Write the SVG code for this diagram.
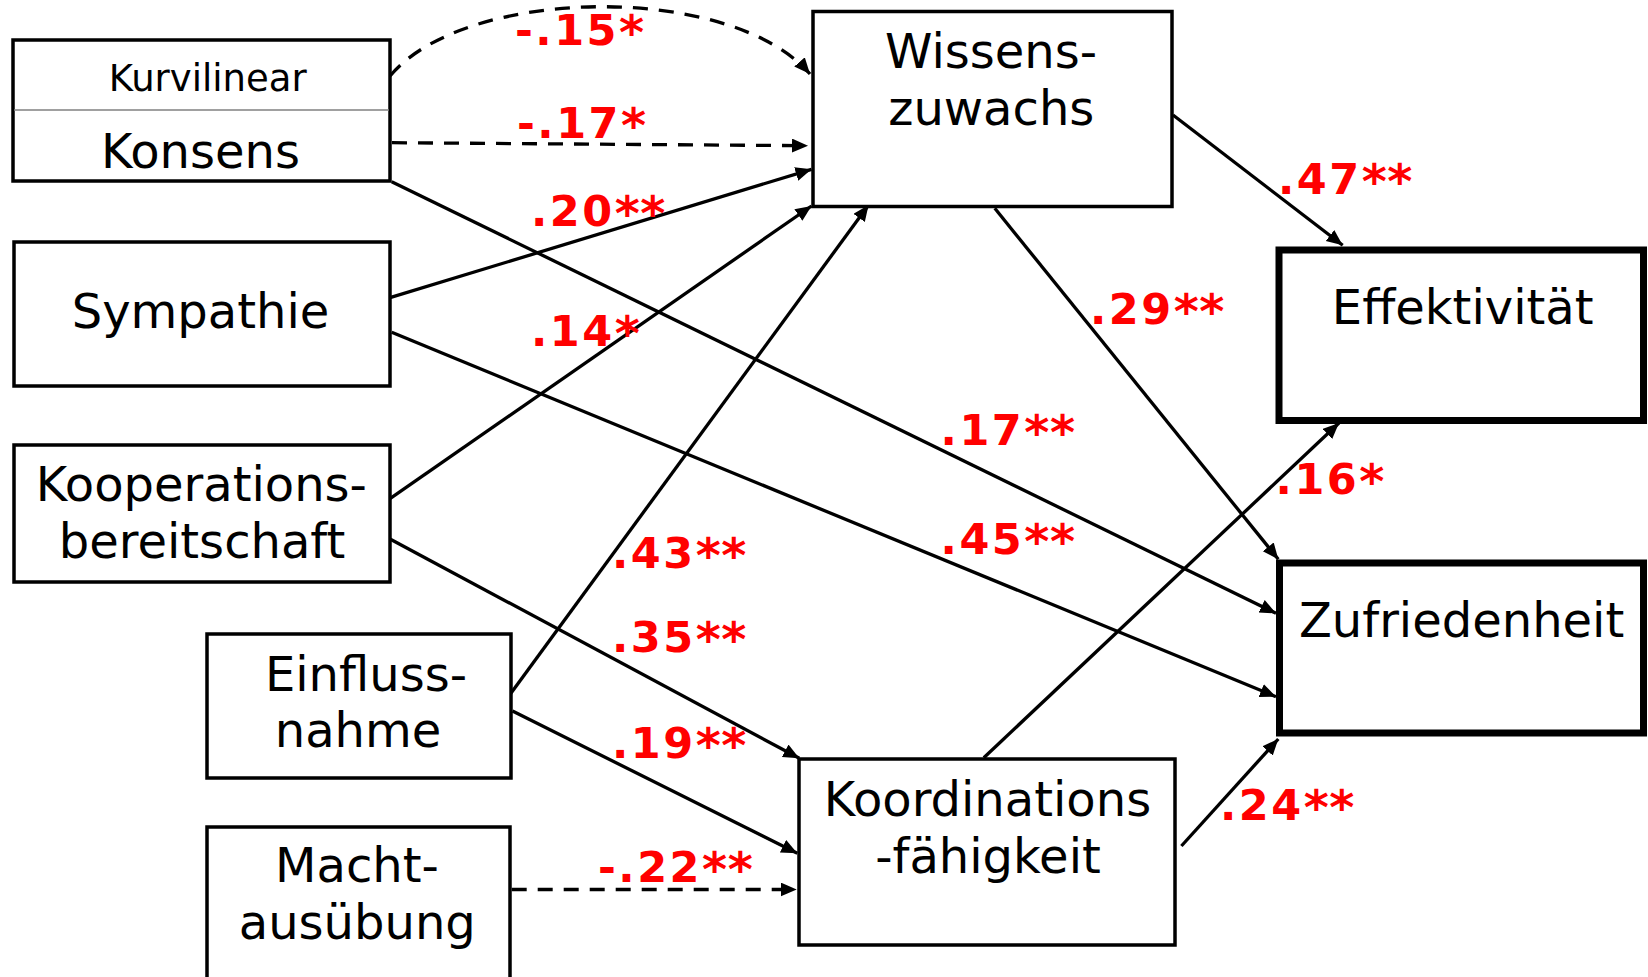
<svg xmlns="http://www.w3.org/2000/svg" width="1648" height="977" viewBox="0 0 1648 977">
<style>
.box{fill:#fff;stroke:#000;stroke-width:3.5}
.thick{fill:#fff;stroke:#000;stroke-width:7}
.t{font-family:"DejaVu Sans","Verdana",sans-serif;font-size:48px;fill:#000;text-anchor:middle}
.small{font-size:37px}
.lbl{font-family:"DejaVu Sans","Verdana",sans-serif;font-weight:bold;font-size:43px;fill:#ff0000;letter-spacing:2.5px}
.st{font-size:48px;letter-spacing:0.5px}
.c{fill:none;stroke:#000;stroke-width:3.3;marker-end:url(#ah)}
.d{stroke-dasharray:15 11}
</style>
<defs>
<marker id="ah" markerUnits="userSpaceOnUse" markerWidth="18" markerHeight="15" refX="16" refY="7" orient="auto">
<path d="M0,0 L16,7 L0,14 z" fill="#000"/>
</marker>
</defs>
<rect width="1648" height="977" fill="#fff"/>
<g id="connectors">
<path class="c d" d="M390,76 C465,-14 730,-18 810,74"/>
<line class="c d" x1="392" y1="142.7" x2="808" y2="145.7"/>
<line class="c" x1="390" y1="297.7" x2="811.5" y2="169.3"/>
<line class="c" x1="390" y1="498.6" x2="811.5" y2="206"/>
<line class="c" x1="510" y1="694.4" x2="868.6" y2="205"/>
<line class="c" x1="391.7" y1="181.7" x2="1276" y2="613.3"/>
<line class="c" x1="391.7" y1="332.3" x2="1276" y2="696.7"/>
<line class="c" x1="390" y1="539" x2="799.3" y2="758.3"/>
<line class="c" x1="512.5" y1="711" x2="797.3" y2="853.3"/>
<line class="c d" x1="511.7" y1="889.5" x2="796.7" y2="889.5"/>
<line class="c" x1="1173" y1="115" x2="1342.7" y2="245.3"/>
<line class="c" x1="994.8" y1="208.3" x2="1278.3" y2="559.3"/>
<line class="c" x1="983.8" y1="757.7" x2="1339" y2="423"/>
<line class="c" x1="1181.4" y1="846" x2="1278.3" y2="739"/>
</g>
<g id="konsens">
<rect class="box" x="13" y="40" width="377" height="141"/>
<line x1="14" y1="110" x2="389" y2="110" stroke="#808080" stroke-width="1.5"/>
<text class="t small" x="207.7" y="90.7">Kurvilinear</text>
<text class="t" x="200.5" y="168">Konsens</text>
</g>
<g id="sympathie">
<rect class="box" x="14" y="242" width="376" height="144"/>
<text class="t" x="200.5" y="328">Sympathie</text>
</g>
<g id="kooperation">
<rect class="box" x="14" y="445" width="376" height="137"/>
<text class="t" x="201.3" y="501">Kooperations-</text>
<text class="t" x="202" y="558">bereitschaft</text>
</g>
<g id="einfluss">
<rect class="box" x="207" y="634" width="304" height="144"/>
<text class="t" x="366" y="690.8">Einfluss-</text>
<text class="t" x="358" y="746.7">nahme</text>
</g>
<g id="macht">
<rect class="box" x="207" y="827" width="303" height="200"/>
<text class="t" x="357" y="882">Macht-</text>
<text class="t" x="357.3" y="939">ausübung</text>
</g>
<g id="wissen">
<rect class="box" x="813" y="11.5" width="359" height="195"/>
<text class="t" x="991" y="68">Wissens-</text>
<text class="t" x="991.3" y="125">zuwachs</text>
</g>
<g id="koordination">
<rect class="box" x="799" y="759" width="376" height="186"/>
<text class="t" x="987.5" y="816">Koordinations</text>
<text class="t" x="988" y="873">-fähigkeit</text>
</g>
<g id="effektivitaet">
<rect class="thick" x="1279" y="250" width="364.5" height="170.5"/>
<text class="t" x="1462.7" y="324">Effektivität</text>
</g>
<g id="zufriedenheit">
<rect class="thick" x="1279.5" y="563" width="364" height="170"/>
<text class="t" x="1461.6" y="637.4">Zufriedenheit</text>
</g>
<g id="labels">
<text class="lbl" x="515" y="45">-.15<tspan class="st" dy="4">*</tspan></text>
<text class="lbl" x="517" y="138.3">-.17<tspan class="st" dy="4">*</tspan></text>
<text class="lbl" x="531" y="225.7">.20<tspan class="st" dy="4">**</tspan></text>
<text class="lbl" x="531" y="345.7">.14<tspan class="st" dy="4">*</tspan></text>
<text class="lbl" x="1278" y="194">.47<tspan class="st" dy="4">**</tspan></text>
<text class="lbl" x="1090" y="324">.29<tspan class="st" dy="4">**</tspan></text>
<text class="lbl" x="940.6" y="445">.17<tspan class="st" dy="4">**</tspan></text>
<text class="lbl" x="940.6" y="553.8">.45<tspan class="st" dy="4">**</tspan></text>
<text class="lbl" x="1275.6" y="493.9">.16<tspan class="st" dy="4">*</tspan></text>
<text class="lbl" x="1220" y="820">.24<tspan class="st" dy="4">**</tspan></text>
<text class="lbl" x="612" y="567.5">.43<tspan class="st" dy="4">**</tspan></text>
<text class="lbl" x="612" y="652">.35<tspan class="st" dy="4">**</tspan></text>
<text class="lbl" x="612" y="757.7">.19<tspan class="st" dy="4">**</tspan></text>
<text class="lbl" x="598" y="882">-.22<tspan class="st" dy="4">**</tspan></text>
</g>
</svg>
